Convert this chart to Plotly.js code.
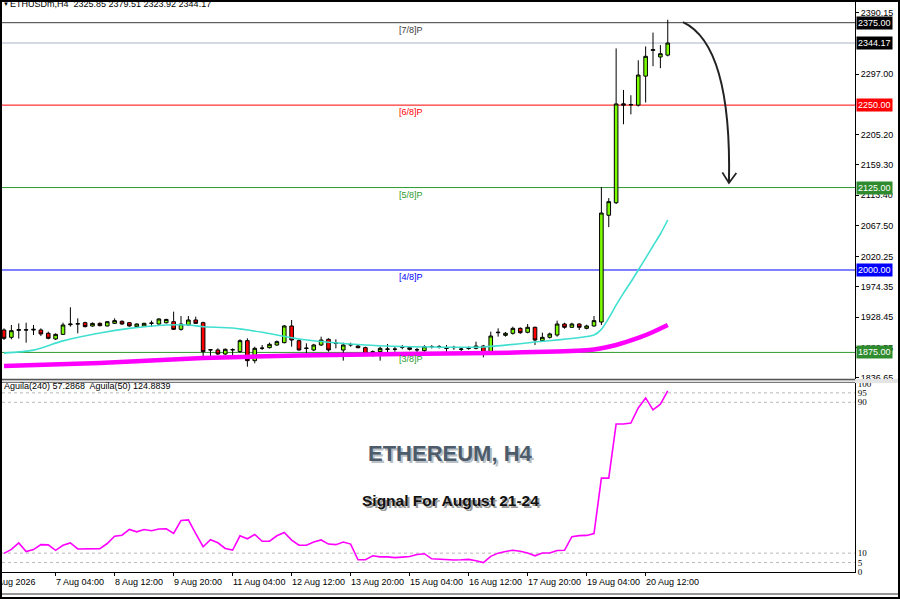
<!DOCTYPE html>
<html><head><meta charset="utf-8">
<script src="https://cdn.plot.ly/plotly-3.0.1.min.js"></script>
<style>
html,body{margin:0;padding:0;background:#fff;}
#wrap{position:relative;width:900px;height:599px;overflow:hidden;}
#chart{position:absolute;left:0;top:0;width:900px;height:599px;}
#frame{position:absolute;left:0;top:0;width:896px;height:595px;border:2px solid #000;pointer-events:none;}
</style></head><body>
<div id="wrap"><div id="chart"></div><div id="frame"></div></div>
<script>
// ---- data (bar index 0 = 6 Aug 2026 00:00, H4 bars) ----
const opens  = [1909,1897.9,1908.5,1909.5,1909,1909,1904,1895.4,1902.4,1917,1918,1920.1,1915,1919.1,1915.1,1919.1,1922.2,1920.1,1914.1,1915.1,1919.1,1918.1,1920,1921.6,1910,1916.6,1924.2,1920.1,1878.7,1878.7,1872.6,1878.7,1876.2,1892.8,1862.5,1881.2,1882.2,1886.3,1889.8,1915.1,1892.8,1881,1878.7,1886.3,1894.9,1888.8,1878.7,1886.3,1884.7,1882.2,1871.1,1876.2,1879.7,1879.7,1882.7,1882.2,1878.7,1877.7,1883.7,1883.7,1881.2,1882.2,1879.7,1881.2,1881.2,1884.7,1875.1,1904.9,1900.9,1904,1911.5,1905.5,1913.1,1892.8,1897.9,1901.4,1918.1,1913.1,1918.1,1911.5,1915.1,1921.1,2083,2102,2252,2251,2250,2294,2333,2323,2325.85];
const highs  = [1911.5,1916.6,1919,1920,1916.6,1911.5,1906.5,1904,1920.1,1943.4,1926.7,1921.6,1920.5,1920.5,1922.5,1926.7,1923.5,1921,1919,1920,1923.2,1926.7,1926,1936.8,1930.2,1930.2,1929.2,1921.6,1879.7,1881.2,1881,1881.2,1894.9,1896.4,1883.7,1886.3,1889.8,1893,1916.6,1924.2,1894.9,1888.8,1888,1898.9,1896.4,1894.9,1889.8,1889.8,1886.3,1883.7,1878,1883.7,1887.8,1883,1886.3,1884,1882,1886,1886,1886,1886.3,1885,1882,1884,1891.3,1886.3,1906.5,1911.5,1906,1914,1913,1918.1,1914.1,1905,1905,1923.2,1920,1920,1919,1917,1930.2,2125.8,2109,2336,2273,2265,2318,2339,2360,2341,2379.51];
const lows   = [1893.8,1894.9,1896,1889.8,1901.4,1900,1894.9,1893.8,1901.4,1914.1,1904,1913,1914,1914.5,1914.5,1918,1917,1914,1913,1914,1914.1,1916.6,1919,1909,1908,1915,1918.1,1867.6,1867.6,1871.1,1871,1871.1,1874.6,1853.4,1858.5,1878.7,1881,1885,1888.8,1883.7,1877.7,1873.6,1877,1884.7,1876.2,1881.2,1862.5,1883.7,1881.2,1871.1,1868.6,1862.5,1872.6,1876,1879.7,1878,1875,1876,1881,1881,1873.6,1879,1877,1879,1879.7,1867.6,1873.6,1898.9,1899,1902,1903,1904,1886.3,1891.3,1896,1898.9,1911,1912,1909,1910,1914.1,1916.6,2065,2100,2221,2236,2248,2254,2309,2306,2323.92];
const closes = [1896.4,1908,1909.5,1909,1910,1903,1896.4,1902.4,1916.6,1918,1918.5,1914.1,1919,1915.6,1921.6,1923.2,1918.1,1915.1,1918.1,1919.1,1919.5,1925.7,1925,1910,1918.1,1924.2,1919.1,1876.2,1879,1872.6,1879.7,1879.2,1892.8,1862.5,1881.2,1881.5,1887.3,1891.3,1915.1,1893.8,1878.7,1881.5,1886.3,1893.8,1878.7,1889.3,1886.3,1886.8,1882.2,1872.6,1876.2,1881.2,1880.2,1880,1883.2,1879.7,1879.2,1883.7,1884,1884,1881.7,1882.6,1880.1,1881.6,1884.7,1873.6,1899.9,1905.5,1904,1911.5,1905,1913.1,1893.8,1897.9,1903,1918.1,1913.1,1918.1,1913.1,1915.1,1923.2,2086.4,2103.6,2251.8,2250,2250.5,2295.6,2324,2334,2328,2344.17];
// fast MA (cyan) read at bars
const cyanBars = [0,4,8,13,17,22,25,27,31,35,40,49,58,65,72,80,81,82,83,84,85,86,87,88,89,90];
const cyanVals = [1874,1878.5,1892.5,1904.5,1911.5,1916.6,1916.6,1914,1912,1905.5,1895.4,1886.3,1883.2,1883.2,1890.8,1901.4,1910,1927,1946.8,1965,1981.8,2000,2018,2036.4,2054.6,2075.8];
// slow MA (magenta)
const magBars = [0,13,27,40,54,66,75,80,83,86,88,90];
const magVals = [1854.4,1859,1866.5,1870.3,1872.6,1874.1,1876.4,1879.4,1886.3,1896.9,1906,1916.6];
// Aguila oscillator
const aguila = [9.9,12,15.4,10.8,11.9,14.5,14.4,11.5,14.2,15.4,12.2,12.2,12.2,12.4,15.1,19,19.5,22.6,21.3,22.5,21.9,22.8,22.9,20.5,27.3,27.6,20.4,13.4,17.1,15.5,12.5,11.6,19.2,17.6,19.9,16.3,16.3,19.2,21,16.9,14.2,14.2,15.9,17,14.8,14.5,15.9,14.8,6.5,6.5,8.6,8,8,7.6,7.9,8.2,9.3,9.7,7,6.7,6.7,6.4,6.5,6.7,6,5,8.3,10,10.9,11.5,11,10.1,8.6,10.1,10.1,11.4,11.5,18.7,19.3,19.4,20.4,49.8,49.8,78.5,78.5,79,87,92.3,86,89,96];
// Murrey levels
const levels = [2375,2250,2125,2000,1875];
const levelNames = ['[7/8]P','[6/8]P','[5/8]P','[4/8]P','[3/8]P'];
const levelColors = ['#3a3a3a','#ff0000','#2e9a2e','#0000ff','#2e9a2e'];
const boxColors = ['#000000','#ff0000','#2e8b2e','#0000ff','#2e8b2e'];
const bid = 2344.17;
// axis ticks
const xTickBars = [7,15,23,31,39,47,55,63,71,79,87];
const xTickText = ['7 Aug 04:00','8 Aug 12:00','9 Aug 20:00','11 Aug 04:00','12 Aug 12:00','13 Aug 20:00','15 Aug 04:00','16 Aug 12:00','17 Aug 20:00','19 Aug 04:00','20 Aug 12:00'];
const firstLabel = '6 Aug 2026';
const priceTicks = [2390.15,2297.00,2205.20,2159.30,2113.40,2067.50,2020.25,1974.35,1928.45,1882.55,1836.65];
const indTicks = [0,5,10,90,95,100];
const indLevels = [95,90,10,5];
const header = 'ETHUSDm,H4  2325.85 2379.51 2323.92 2344.17';
const indLabel = 'Aguila(240) 57.2868  Aguila(50) 124.8839';

// ---- geometry ----
const W=900,H=599,ML=2,MR=45,MT=1,MB=27;
const plotW=W-ML-MR, plotH=H-MT-MB;
const barPx=7.375, firstBarPx=4;
const xr0=-(firstBarPx-ML)/barPx, xr=[xr0, xr0+plotW/barPx];
const pyFrac = py => (H-MB-py)/plotH;   // pixel y -> paper
const pxFrac = px => (px-ML)/plotW;
const priceTopPx=1, priceBotPx=379, indTopPx=383, indBotPx=572;
const pxPerPrice=1/1.5164, refPrice=2390.15, refPx=12.7;
const priceRange=[refPrice-(priceBotPx-refPx)/pxPerPrice, refPrice+(refPx-priceTopPx)/pxPerPrice];
const idx = closes.map((_,i)=>i);
const F='Liberation Sans, Arial, sans-serif';

const traces = [
 {type:'scatter',mode:'lines',x:magBars,y:magVals,line:{color:'#ff00ff',width:4.5,shape:'spline',smoothing:0.6},hoverinfo:'skip',xaxis:'x',yaxis:'y'},
 {type:'scatter',mode:'lines',x:cyanBars,y:cyanVals,line:{color:'#40e0d0',width:1.6,shape:'spline',smoothing:0.7},hoverinfo:'skip',xaxis:'x',yaxis:'y'},
 {type:'candlestick',x:idx,open:opens,high:highs,low:lows,close:closes,whiskerwidth:0,
  increasing:{line:{color:'#000',width:1},fillcolor:'#7cfc00'},
  decreasing:{line:{color:'#000',width:1},fillcolor:'#ff0000'},hoverinfo:'skip',xaxis:'x',yaxis:'y'},
 {type:'scatter',mode:'lines',x:idx,y:aguila,line:{color:'#ff00ff',width:1.6},hoverinfo:'skip',xaxis:'x',yaxis:'y2'}
];

const shapes=[];
levels.forEach((lv,i)=>shapes.push({type:'line',xref:'paper',x0:0,x1:1,yref:'y',y0:lv,y1:lv,line:{color:levelColors[i],width:1},layer:'below'}));
shapes.push({type:'line',xref:'paper',x0:0,x1:1,yref:'y',y0:bid,y1:bid,line:{color:'#a9b3c4',width:1},layer:'below'});
indLevels.forEach(v=>shapes.push({type:'line',xref:'paper',x0:0,x1:1,yref:'y2',y0:v,y1:v,line:{color:'#b8b8b8',width:1,dash:'dot'},layer:'below'}));
// panel separator
shapes.push({type:'rect',xref:'paper',x0:-0.01,x1:pxFrac(W),yref:'paper',y0:pyFrac(383),y1:pyFrac(379),fillcolor:'#e4e4e4',line:{width:0}});
shapes.push({type:'line',xref:'paper',x0:-0.01,x1:1,yref:'paper',y0:pyFrac(379.5),y1:pyFrac(379.5),line:{color:'#555',width:1.5}});
shapes.push({type:'line',xref:'paper',x0:-0.01,x1:1,yref:'paper',y0:pyFrac(382.5),y1:pyFrac(382.5),line:{color:'#777',width:1}});
// bottom scrollbar line
shapes.push({type:'line',xref:'paper',x0:-0.01,x1:pxFrac(W),yref:'paper',y0:pyFrac(594),y1:pyFrac(594),line:{color:'#333',width:1}});
// hand-drawn arrow (decoration)
shapes.push({type:'path',xref:'x',yref:'y',path:'M 92.07,2376 Q 98.7,2341 98.3,2131.9',line:{color:'#222',width:2}});
shapes.push({type:'path',xref:'x',yref:'y',path:'M 97.4,2148 L 98.3,2131.9 L 99.3,2147',line:{color:'#222',width:1.8}});

const ann=[];
// header
ann.push({xref:'paper',yref:'paper',x:pxFrac(1),y:pyFrac(4),text:'▼',showarrow:false,xanchor:'left',yanchor:'middle',font:{family:F,size:6,color:'#000'}});
ann.push({xref:'paper',yref:'paper',x:pxFrac(8),y:pyFrac(4),text:header,showarrow:false,xanchor:'left',yanchor:'middle',font:{family:F,size:9,color:'#000'}});
// level labels and right boxes
levels.forEach((lv,i)=>{
  ann.push({xref:'paper',yref:'y',x:pxFrac(397),y:lv,text:levelNames[i],showarrow:false,xanchor:'left',yanchor:'top',yshift:0,font:{family:F,size:9,color:levelColors[i]}});
  ann.push({xref:'paper',yref:'y',x:1,xshift:1,y:lv,text:lv.toFixed(2),showarrow:false,xanchor:'left',yanchor:'middle',bgcolor:boxColors[i],borderpad:1,font:{family:F,size:9,color:'#fff'}});
});
ann.push({xref:'paper',yref:'y',x:1,xshift:1,y:bid,text:bid.toFixed(2),showarrow:false,xanchor:'left',yanchor:'middle',bgcolor:'#000',borderpad:1,font:{family:F,size:9,color:'#fff'}});
// indicator label
ann.push({xref:'paper',yref:'paper',x:0,y:pyFrac(386.5),text:indLabel,showarrow:false,xanchor:'left',yanchor:'middle',font:{family:F,size:9,color:'#000'}});
// x tick labels (left aligned at tick as in MT)
ann.push({xref:'paper',yref:'paper',x:pxFrac(-12),y:0,yshift:-3,text:firstLabel,showarrow:false,xanchor:'left',yanchor:'top',font:{family:F,size:9,color:'#000'}});
xTickBars.forEach((b,i)=>ann.push({xref:'x',yref:'paper',x:b,xshift:-2,y:0,yshift:-3,text:xTickText[i],showarrow:false,xanchor:'left',yanchor:'top',font:{family:F,size:9,color:'#000'}}));
// watermark titles
const tX=pxFrac(450), tY=pyFrac(467.5), sX=pxFrac(451), sY=pyFrac(511);
ann.push({xref:'paper',yref:'paper',x:tX,y:tY,xshift:2,yshift:-2,text:'<b>ETHEREUM, H4</b>',showarrow:false,font:{family:F,size:22,color:'#b9bfc5'}});
ann.push({xref:'paper',yref:'paper',x:tX,y:tY,text:'<b>ETHEREUM, H4</b>',showarrow:false,font:{family:F,size:22,color:'#4c5c6b'}});
ann.push({xref:'paper',yref:'paper',x:sX,y:sY,xshift:1.5,yshift:-1.5,text:'<b>Signal For August 21-24</b>',showarrow:false,font:{family:F,size:15.5,color:'#9a9a9a'}});
ann.push({xref:'paper',yref:'paper',x:sX,y:sY,text:'<b>Signal For August 21-24</b>',showarrow:false,font:{family:F,size:15.5,color:'#111'}});

const layout={
  width:W,height:H,margin:{l:ML,r:MR,t:MT,b:MB,pad:0},
  paper_bgcolor:'#fff',plot_bgcolor:'#fff',showlegend:false,
  xaxis:{range:xr,anchor:'y2',showgrid:false,zeroline:false,showticklabels:false,
    tickvals:xTickBars,ticks:'outside',ticklen:3,tickcolor:'#000',showline:true,linecolor:'#000',linewidth:1,
    rangeslider:{visible:false},fixedrange:true},
  yaxis:{domain:[pyFrac(priceBotPx),1],range:priceRange,side:'right',anchor:'x',showgrid:false,zeroline:false,
    tickvals:priceTicks,ticktext:priceTicks.map(v=>v.toFixed(2)),ticks:'outside',ticklen:3,tickcolor:'#000',
    showline:true,linecolor:'#000',linewidth:1,tickfont:{family:F,size:9,color:'#000'}},
  yaxis2:{domain:[0,pyFrac(indTopPx)],range:[0,(indBotPx-indTopPx)/1.8857],side:'right',anchor:'x',showgrid:false,zeroline:false,
    tickvals:indTicks,ticktext:indTicks.map(String),ticks:'',
    showline:true,linecolor:'#000',linewidth:1,tickfont:{family:'Liberation Serif, serif',size:9,color:'#000'}},
  shapes:shapes,annotations:ann
};
Plotly.newPlot('chart',traces,layout,{staticPlot:true,displayModeBar:false});
</script></body></html>
